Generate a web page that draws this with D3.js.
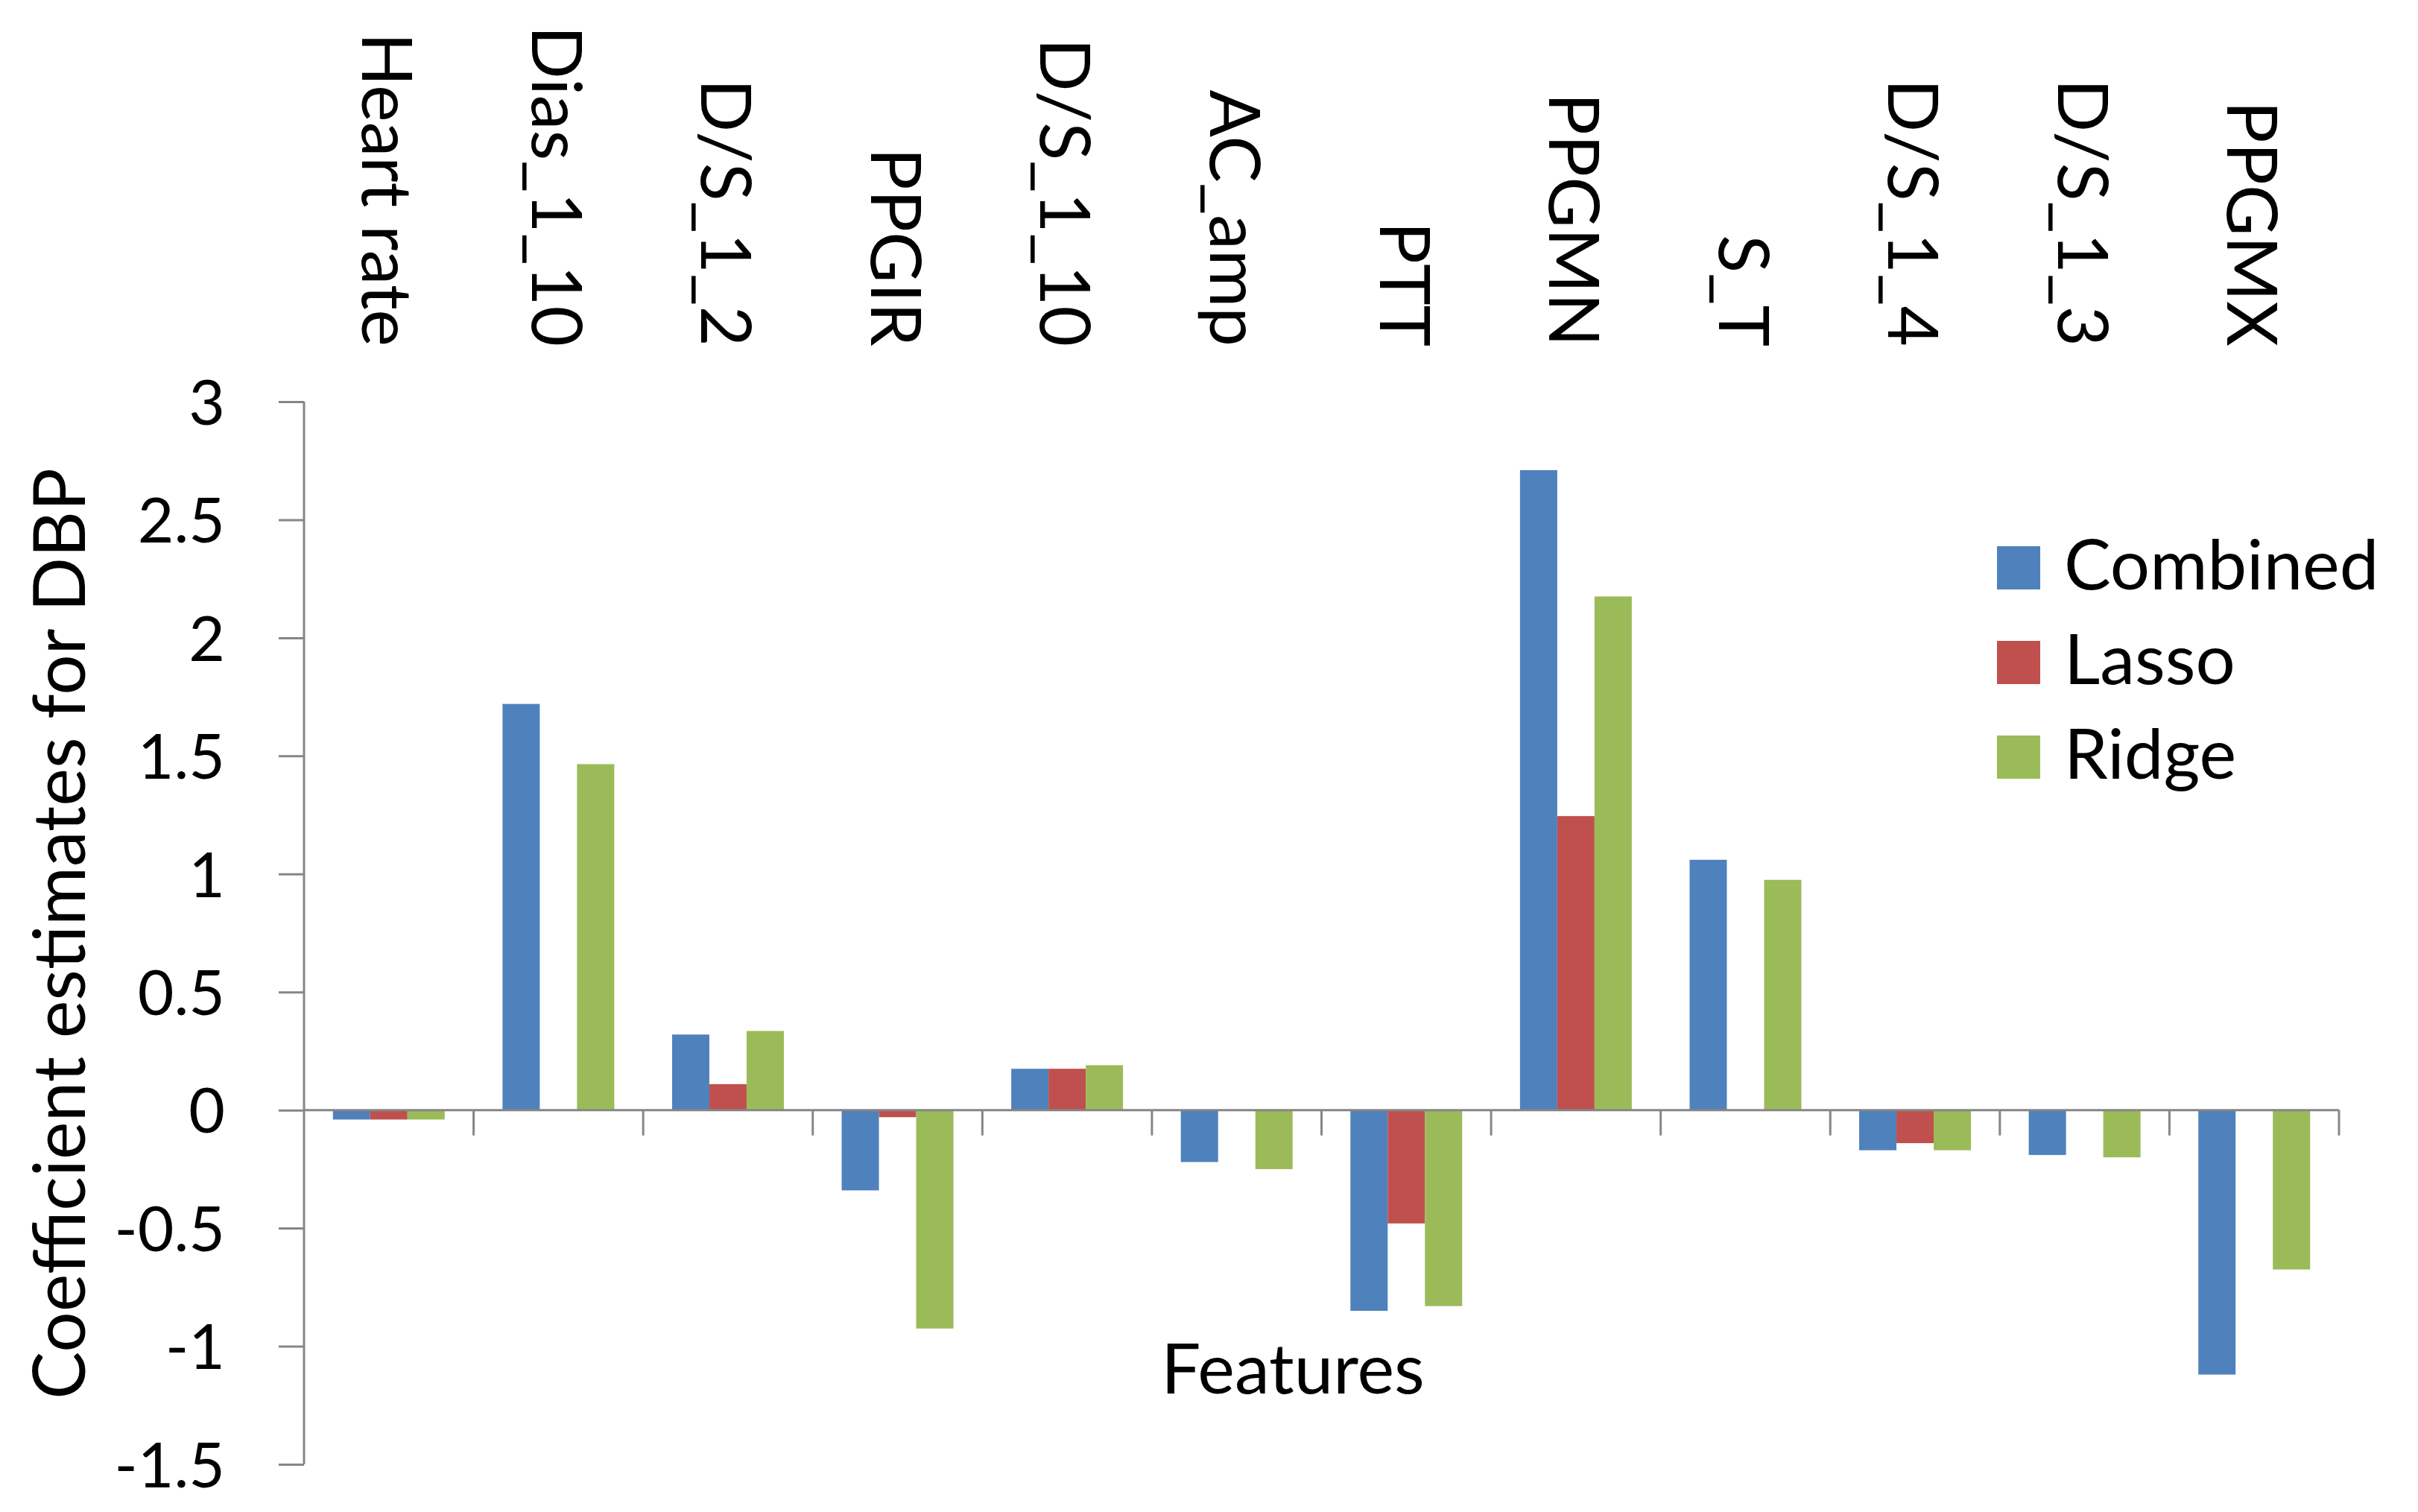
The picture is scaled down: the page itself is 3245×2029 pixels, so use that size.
<!DOCTYPE html>
<html>
<head>
<meta charset="utf-8">
<title>Coefficient estimates for DBP</title>
<script src="https://cdn.jsdelivr.net/npm/d3@7"></script>
<style>
    html, body { margin: 0; padding: 0; background: #fff; }
    svg { display: block; font-family: Lato, "Open Sans", sans-serif; }
</style>
</head>
<body>
<div id="chart"></div>
<script>
// Feature names, in the order they appear along the x axis
const categories = ['Heart rate', 'Dias_1_10', 'D/S_1_2', 'PPGIR', 'D/S_1_10', 'AC_amp',
    'PTT', 'PPGMN', 'S_T', 'D/S_1_4', 'D/S_1_3', 'PPGMX'];

// Coefficient estimates per model
const combined = [-0.04, 1.72, 0.32, -0.34, 0.175, -0.22, -0.85, 2.71, 1.06, -0.17, -0.19, -1.12];
const lasso    = [-0.04, 0, 0.11, -0.03, 0.175, 0, -0.48, 1.245, 0, -0.14, 0, 0];
const ridge    = [-0.04, 1.465, 0.335, -0.925, 0.19, -0.25, -0.83, 2.175, 0.975, -0.17, -0.2, -0.675];

const seriesNames = ['Combined', 'Lasso', 'Ridge'];
const seriesColors = ['#4F81BD', '#C0504D', '#9BBB59'];
const yTicks = [-1.5, -1, -0.5, 0, 0.5, 1, 1.5, 2, 2.5, 3];

document.addEventListener('DOMContentLoaded', () => {
    const width = 3245;
    const height = 2029;
    const axisColor = '#868686';

    const svg = d3.select('#chart')
        .append('svg')
        .attr('width', width)
        .attr('height', height);

    svg.append('rect')
        .attr('width', width)
        .attr('height', height)
        .attr('fill', '#fff');

    // Scales
    const x0 = d3.scaleBand()
        .domain(categories)
        .range([408, 3139])
        .paddingInner(0)
        .paddingOuter(0);

    const x1 = d3.scaleBand()
        .domain(seriesNames)
        .range([0, x0.bandwidth()])
        .paddingInner(0)
        .paddingOuter(0.776);

    const y = d3.scaleLinear()
        .domain([-1.5, 3])
        .range([1965, 539]);

    const color = d3.scaleOrdinal()
        .domain(seriesNames)
        .range(seriesColors);

    const rows = categories.map((c, i) => ({
        category: c,
        values: [
            { key: 'Combined', value: combined[i] },
            { key: 'Lasso', value: lasso[i] },
            { key: 'Ridge', value: ridge[i] }
        ]
    }));

    // Bars
    svg.append('g')
        .selectAll('g')
        .data(rows)
        .join('g')
        .attr('transform', d => `translate(${x0(d.category)},0)`)
        .selectAll('rect')
        .data(d => d.values.filter(v => v.value !== 0))
        .join('rect')
        .attr('x', d => x1(d.key))
        .attr('width', x1.bandwidth())
        .attr('y', d => y(Math.max(0, d.value)))
        .attr('height', d => Math.abs(y(d.value) - y(0)))
        .attr('fill', d => color(d.key));

    // Y axis (plain hyphen for negatives, like the original)
    const yAxis = svg.append('g')
        .attr('transform', `translate(${x0.range()[0]},0)`)
        .call(d3.axisLeft(y)
            .tickValues(yTicks)
            .tickSize(34)
            .tickPadding(72)
            .tickFormat(d => String(d)));

    yAxis.select('.domain')
        .attr('stroke', axisColor)
        .attr('stroke-width', 3)
        .attr('d', `M0,${y(3)}V${y(-1.5)}`);
    yAxis.selectAll('.tick line')
        .attr('stroke', axisColor)
        .attr('stroke-width', 3);
    yAxis.selectAll('.tick text')
        .attr('fill', '#000')
        .attr('font-family', 'Lato, sans-serif')
        .attr('font-size', 84)
        .attr('dy', '0.36em');

    // X axis along zero, with ticks between categories
    const xAxisG = svg.append('g')
        .attr('transform', `translate(0,${y(0)})`);

    xAxisG.append('line')
        .attr('x1', x0.range()[0])
        .attr('x2', x0.range()[1])
        .attr('stroke', axisColor)
        .attr('stroke-width', 3);

    const boundaries = categories.map(c => x0(c) + x0.bandwidth());
    xAxisG.selectAll('line.tick')
        .data(boundaries)
        .join('line')
        .attr('class', 'tick')
        .attr('x1', d => d)
        .attr('x2', d => d)
        .attr('y1', 0)
        .attr('y2', 34)
        .attr('stroke', axisColor)
        .attr('stroke-width', 3);

    // Category labels, rotated, above the plot
    svg.append('g')
        .selectAll('text')
        .data(categories)
        .join('text')
        .attr('transform', d => `translate(${x0(d) + x0.bandwidth() / 2},465) rotate(90)`)
        .attr('text-anchor', 'end')
        .attr('dy', '0.38em')
        .attr('font-size', 94)
        .attr('fill', '#000')
        .text(d => d);

    // Axis titles
    svg.append('text')
        .attr('transform', 'translate(114,1253) rotate(-90)')
        .attr('text-anchor', 'middle')
        .attr('font-size', 96)
        .attr('fill', '#000')
        .text('Coefficient estimates for DBP');

    svg.append('text')
        .attr('x', 1735)
        .attr('y', 1870)
        .attr('text-anchor', 'middle')
        .attr('font-size', 94)
        .attr('fill', '#000')
        .text('Features');

    // Legend
    const legend = svg.append('g')
        .selectAll('g')
        .data(seriesNames)
        .join('g')
        .attr('transform', (d, i) => `translate(2680,${791 + i * 127})`);

    legend.append('rect')
        .attr('y', -58)
        .attr('width', 58)
        .attr('height', 58)
        .attr('fill', d => color(d));

    legend.append('text')
        .attr('x', 90)
        .attr('font-size', 94)
        .attr('fill', '#000')
        .text(d => d);
});
</script>
</body>
</html>
